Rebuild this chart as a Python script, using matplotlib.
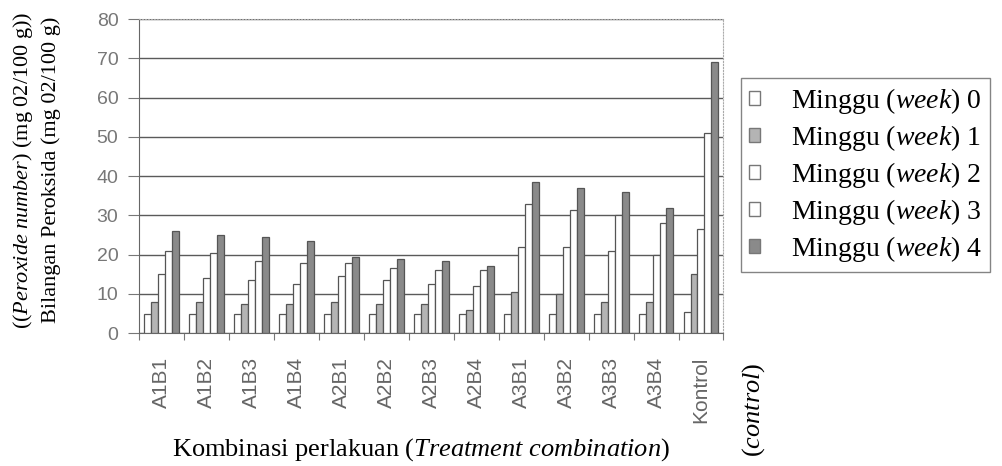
import numpy as np
import matplotlib.pyplot as plt
from matplotlib.patches import Patch

# data
groups = ['A1B1', 'A1B2', 'A1B3', 'A1B4', 'A2B1', 'A2B2', 'A2B3', 'A2B4',
          'A3B1', 'A3B2', 'A3B3', 'A3B4', 'Kontrol']
week0 = [5, 5, 5, 5, 5, 5, 5, 5, 5, 5, 5, 5, 5.5]
week1 = [8, 8, 7.5, 7.5, 8, 7.5, 7.5, 6, 10.5, 10, 8, 8, 15]
week2 = [15, 14, 13.5, 12.5, 14.5, 13.5, 12.5, 12, 22, 22, 21, 20, 26.5]
week3 = [21, 20.5, 18.5, 18, 18, 16.5, 16, 16, 33, 31.5, 30, 28, 51]
week4 = [26, 25, 24.5, 23.5, 19.5, 19, 18.5, 17, 38.5, 37, 36, 32, 69]
series = [week0, week1, week2, week3, week4]
legend_labels = [r'Minggu ($\mathit{week}$) %d' % i for i in range(5)]

plt.rcParams['mathtext.fontset'] = 'custom'
plt.rcParams['mathtext.rm'] = 'Liberation Serif'
plt.rcParams['mathtext.it'] = 'Liberation Serif:italic'

faces = ['white', '#b4b4b4', 'white', 'white', '#8a8a8a']
edges = '#555555'

fig = plt.figure(figsize=(10.02, 4.66), dpi=100)
ax = fig.add_axes([0.139, 0.285, 0.583, 0.674])

x = np.arange(len(groups))
w = 0.155
for i, vals in enumerate(series):
    ax.bar(x + (i - 2) * w, vals, width=w, color=faces[i],
           edgecolor=edges, linewidth=0.9, zorder=3)

ax.set_xlim(-0.5, len(groups) - 0.5)
ax.set_ylim(0, 80)
ax.set_yticks(range(0, 81, 10))
ax.yaxis.grid(True, color='#5a5a5a', linewidth=1.0, zorder=0)
ax.set_axisbelow(True)

# group separators as ticks, labels in the middle
ax.set_xticks(np.arange(-0.5, len(groups), 1.0))
ax.set_xticklabels([])
ax.set_xticks(x, minor=True)
ax.set_xticklabels(groups, minor=True, rotation=90, fontsize=15,
                   family='Liberation Sans', color='#666666')
ax.tick_params(axis='x', which='minor', length=0, pad=17)
ax.tick_params(axis='x', which='major', length=5, color='#777777')
ax.tick_params(axis='y', length=8, pad=7, color='#777777', labelsize=14,
               labelcolor='#777777')
for lbl in ax.get_yticklabels():
    lbl.set_family('Liberation Sans')

for s in ['left', 'bottom']:
    ax.spines[s].set_color('#666666')
for s in ['top', 'right']:
    ax.spines[s].set_color('#aaaaaa')
    ax.spines[s].set_linestyle(':')

# axis titles
fig.text(0.023, 0.635, r'(($\mathit{Peroxide\ number}$) (mg 02/100 g))',
         rotation=90, ha='center', va='center', fontsize=16,
         family='Liberation Serif')
fig.text(0.051, 0.635, 'Bilangan Peroksida (mg 02/100 g)',
         rotation=90, ha='center', va='center', fontsize=16,
         family='Liberation Serif')
fig.text(0.42, 0.035, r'Kombinasi perlakuan ($\mathit{Treatment\ combination)}$',
         ha='center', va='center', fontsize=19, family='Liberation Serif')
fig.text(0.752, 0.12, r'($\mathit{control}$)', rotation=90,
         ha='center', va='center', fontsize=19, family='Liberation Serif')

handles = [Patch(facecolor=faces[i], edgecolor='#777777') for i in range(5)]
leg = fig.legend(handles, legend_labels, loc='upper left',
                 bbox_to_anchor=(0.7395, 0.833), frameon=True, fancybox=False,
                 prop={'family': 'Liberation Serif', 'size': 20},
                 handlelength=0.4, handleheight=0.4, handletextpad=1.1,
                 labelspacing=0.25, borderpad=0.3, borderaxespad=0)
leg.get_frame().set_edgecolor('#666666')
leg.get_frame().set_linewidth(1.0)

fig.savefig('out.png', dpi=100)
